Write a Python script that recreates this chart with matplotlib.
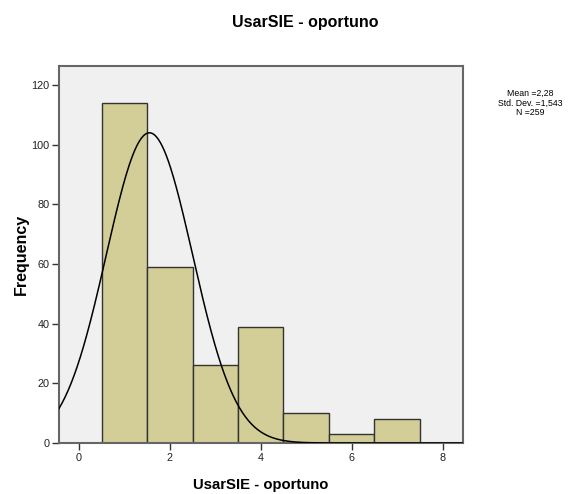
import numpy as np
import matplotlib
matplotlib.use('Agg')
import matplotlib.pyplot as plt

plt.rcParams['font.family'] = ['Liberation Sans', 'DejaVu Sans']

# histogram bins (value 1..7, width 1) and their counts
bin_centers = [1, 2, 3, 4, 5, 6, 7]
counts = [114, 59, 26, 39, 10, 3, 8]

# summary shown next to the plot
stat_mean = '2,28'
stat_sd = '1,543'
stat_n = 259

# normal curve overlay as drawn (peak height, centre, spread)
curve_peak = 104
curve_center = 1.55
curve_sigma = 0.95

title = 'UsarSIE - oportuno'

fig = plt.figure(figsize=(5.77, 4.94), dpi=100)
ax = fig.add_axes([0.1023, 0.1032, 0.7001, 0.7632])
ax.set_facecolor('#f0f0f0')

ax.bar(bin_centers, counts, width=1.0, color='#d3ce97', edgecolor='#333333',
       linewidth=1.0, zorder=2)

xs = np.linspace(-0.44, 8.45, 400)
ys = curve_peak * np.exp(-(xs - curve_center) ** 2 / (2 * curve_sigma ** 2))
ax.plot(xs, ys, color='black', linewidth=1.1, zorder=3)

ax.set_xlim(-0.44, 8.45)
ax.set_ylim(0, 126.4)
ax.set_xticks([0, 2, 4, 6, 8])
ax.set_yticks([0, 20, 40, 60, 80, 100, 120])
ax.tick_params(direction='out', length=5, width=1, color='#333333',
               labelsize=7.8, labelcolor='#222222', pad=2)

for sp in ax.spines.values():
    sp.set_color('#666666')
    sp.set_linewidth(1.5)

ax.set_xlabel(title, fontsize=10.7, fontweight='bold', labelpad=11)
ax.set_ylabel('Frequency', fontsize=11.5, fontweight='bold', labelpad=2)

fig.text(305 / 577, 1 - 22 / 494, title, ha='center', va='center',
         fontsize=11.5, fontweight='bold')

fig.text(530 / 577, 1 - 103 / 494,
         f'Mean ={stat_mean}\nStd. Dev. ={stat_sd}\nN ={stat_n}',
         ha='center', va='center', fontsize=6.3, linespacing=1.05)

fig.savefig('out.png', dpi=100)
